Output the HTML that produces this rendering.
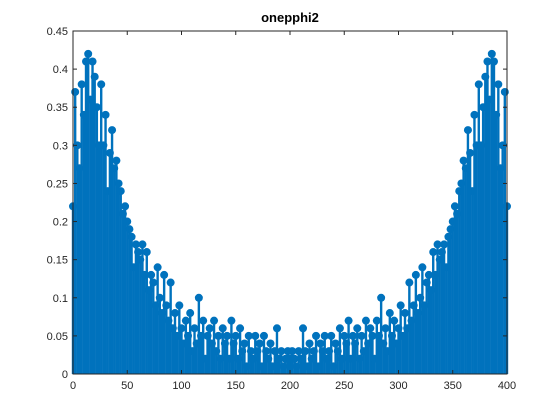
<!DOCTYPE html>
<html><head><meta charset="utf-8"><style>
body{margin:0;background:#fff}
svg{display:block;font-family:"Liberation Sans",sans-serif}
</style></head><body>
<svg id="chart" width="560" height="420">
<rect width="560" height="420" fill="#fff"/>
<text x="290" y="22" text-anchor="middle" font-size="13" font-weight="bold" fill="#000">onepphi2</text>
<g id="marks"></g>
<g id="axes"></g>
</svg>
<script>
const yValues=[.22,.37,.30,.27,.38,.34,.41,.42,.36,.41,.39,.35,.30,.38,.30,.34,.24,.29,.32,.27,.28,.25,.24,.21,.22,.20,.19,.18,.14,.17,.16,.15,.17,.13,.16,.11,.13,.12,.09,.14,.10,.08,.13,.09,.07,.12,.06,.08,.05,.09,.06,.04,.07,.05,.08,.03,.06,.04,.10,.05,.07,.02,.05,.06,.04,.07,.03,.05,.02,.06,.04,.05,.02,.07,.04,.05,.02,.06,.03,.04,.01,.05,.03,.02,.05,.03,.04,.01,.05,.03,.02,.04,.01,.03,.06,.02,.03,.01,.02,.03,.02,
.03,.02,.01,.03,.02,.06,.03,.01,.04,.02,.03,.05,.01,.04,.03,.05,.02,.03,.05,.01,.04,.03,.06,.02,.05,.04,.07,.02,.05,.04,.06,.02,.05,.03,.07,.04,.06,.05,.02,.07,.05,.10,.04,.06,.03,.08,.05,.07,.04,.06,.09,.05,.08,.06,.12,.07,.09,.13,.08,.10,.14,.09,.12,.13,.11,.16,.13,.17,.15,.16,.17,.14,.18,.19,.20,.22,.21,.24,.25,.28,.27,.32,.29,.24,.34,.30,.38,.30,.35,.39,.41,.36,.42,.41,.34,.38,.27,.30,.37,.22];
const xTicks=[0,50,100,150,200,250,300,350,400];
const yTicks=[0,0.05,0.1,0.15,0.2,0.25,0.3,0.35,0.4,0.45];
const yTickLabels=["0","0.05","0.1","0.15","0.2","0.25","0.3","0.35","0.4","0.45"];
const X0=73,X1=507,Y0=374,Y1=31;
const sx=v=>X0+(v/400)*(X1-X0);
const sy=v=>Y0-(v/0.45)*(Y0-Y1);
const NS="http://www.w3.org/2000/svg";
const marks=document.getElementById('marks'),axes=document.getElementById('axes');
const n=yValues.length;
yValues.forEach((v,i)=>{
  const xv=i*400/(n-1);
  const l=document.createElementNS(NS,'line');
  l.setAttribute('x1',sx(xv));l.setAttribute('x2',sx(xv));l.setAttribute('y1',sy(0));l.setAttribute('y2',sy(v));
  l.setAttribute('stroke','#0072BD');l.setAttribute('stroke-width','2.4');
  
  
  marks.appendChild(l);
  const c=document.createElementNS(NS,'circle');
  c.setAttribute('cx',sx(xv));c.setAttribute('cy',sy(v));c.setAttribute('r','4');c.setAttribute('fill','#0072BD');
  
  
  marks.appendChild(c);
});
const box=document.createElementNS(NS,'rect');
box.setAttribute('x',X0);box.setAttribute('y',Y1);box.setAttribute('width',X1-X0);box.setAttribute('height',Y0-Y1);
box.setAttribute('fill','none');box.setAttribute('stroke','#262626');box.setAttribute('stroke-width','1');


axes.appendChild(box);
xTicks.forEach(t=>{
  [[Y0,Y0-4],[Y1,Y1+4]].forEach(p=>{
    const l=document.createElementNS(NS,'line');
    l.setAttribute('x1',sx(t));l.setAttribute('x2',sx(t));l.setAttribute('y1',p[0]);l.setAttribute('y2',p[1]);
    l.setAttribute('stroke','#262626');
    
    
    axes.appendChild(l);
  });
  const tx=document.createElementNS(NS,'text');
  tx.setAttribute('x',sx(t));tx.setAttribute('y',Y0+15);tx.setAttribute('text-anchor','middle');tx.setAttribute('font-size','11');tx.setAttribute('fill','#262626');
  tx.textContent=t;
  
  
  axes.appendChild(tx);
});
yTicks.forEach((t,i)=>{
  [[X0,X0+4],[X1,X1-4]].forEach(p=>{
    const l=document.createElementNS(NS,'line');
    l.setAttribute('x1',p[0]);l.setAttribute('x2',p[1]);l.setAttribute('y1',sy(t));l.setAttribute('y2',sy(t));
    l.setAttribute('stroke','#262626');
    
    
    axes.appendChild(l);
  });
  const tx=document.createElementNS(NS,'text');
  tx.setAttribute('x',X0-5);tx.setAttribute('y',sy(t)+4);tx.setAttribute('text-anchor','end');tx.setAttribute('font-size','11');tx.setAttribute('fill','#262626');
  tx.textContent=yTickLabels[i];
  
  
  axes.appendChild(tx);
});
</script>
</body></html>
